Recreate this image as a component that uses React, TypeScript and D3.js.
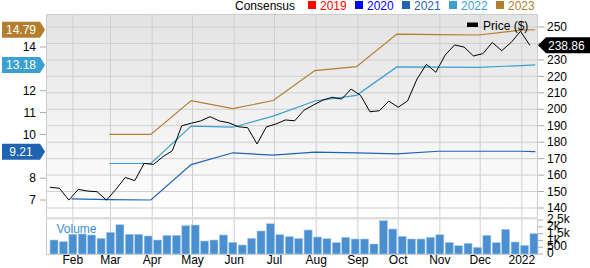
import React from "react";
import * as d3 from "d3";

const W = 590;
const H = 268;

// Weekly closing prices (Fridays, from 2021-01-15)
const priceStart = "2021-01-15";
const priceValues = [
  152.6, 152.0, 144.8, 151.3, 150.3, 149.9, 144.8, 151.3, 158.6, 156.6,
  167.1, 166.5, 171.2, 174.8, 190.0, 191.5, 192.9, 195.5, 192.9, 191.8,
  189.4, 188.8, 178.9, 189.4, 191.0, 193.5, 193.0, 199.5, 202.6, 205.6,
  207.3, 206.2, 212.3, 208.4, 198.5, 199.1, 205.0, 201.2, 205.1, 218.4,
  227.3, 222.5, 233.0, 239.1, 237.8, 232.4, 233.8, 240.6, 235.6, 240.6,
  247.4, 238.86,
];
// Weekly volume (thousands)
const volumeValues = [
  1029, 904, 1449, 1471, 1397, 1154, 1596, 2154, 1449, 1449,
  1324, 1029, 1375, 1375, 2081, 2132, 956, 1029, 1397, 860,
  662, 1154, 1691, 2228, 1419, 1272, 1140, 1765, 1250, 1125,
  831, 1228, 1103, 1103, 735, 2449, 1838, 1301, 1103, 1103,
  1228, 1419, 860, 610, 787, 493, 1375, 831, 1816, 882,
  640, 1493,
];

// Consensus EPS estimates
const eps2021Dates = ["2021-01-31", "2021-02-28", "2021-03-31", "2021-04-30", "2021-05-31", "2021-06-30", "2021-07-31", "2021-08-31", "2021-09-30", "2021-10-31", "2021-11-30", "2021-12-31", "2022-01-11"];
const eps2021 = [7.05, 7.02, 7.0, 8.62, 9.16, 9.05, 9.19, 9.16, 9.11, 9.23, 9.23, 9.23, 9.21];
const epsLateDates = ["2021-02-28", "2021-03-31", "2021-04-30", "2021-05-31", "2021-06-30", "2021-07-31", "2021-08-31", "2021-09-30", "2021-10-31", "2021-11-30", "2021-12-31", "2022-01-11"];
const eps2022 = [8.67, 8.67, 10.38, 10.33, 10.84, 11.53, 11.79, 13.09, 13.08, 13.07, 13.15, 13.18];
const eps2023 = [10.0, 10.0, 11.55, 11.18, 11.55, 12.92, 13.1, 14.59, 14.57, 14.55, 14.77, 14.79];

const priceTicks = [140, 150, 160, 170, 180, 190, 200, 210, 220, 230, 240, 250];
const priceTickLabels = ["140", "150", "160", "170", "180", "190", "200", "210", "220", "230", "", "250"];
const epsTicks = [7, 8, 10, 11, 12, 14];
const volTicks = [0, 500, 1000, 1500, 2000, 2500];
const volTickLabels = ["0", "500", "1k", "1.5k", "2k", "2.5k"];
const monthTicks = ["2021-02-01", "2021-03-01", "2021-04-01", "2021-05-01", "2021-06-01", "2021-07-01", "2021-08-01", "2021-09-01", "2021-10-01", "2021-11-01", "2021-12-01", "2022-01-01"];
const monthLabels = ["Feb", "Mar", "Apr", "May", "Jun", "Jul", "Aug", "Sep", "Oct", "Nov", "Dec", "2022"];

const legendYears = ["2019", "2020", "2021", "2022", "2023"];
const legendColors = ["#ff0000", "#0000ff", "#1f63b3", "#3a9fd1", "#b47d2e"];

const parse = d3.utcParse("%Y-%m-%d");
const FONT = "'Liberation Sans', Arial, Helvetica, sans-serif";

export default function App() {
  const left = 46, right = 538, top = 14, mainBottom = 217, volBottom = 254;

  const x = d3.scaleUtc().domain([parse("2021-01-12")!, parse("2022-01-13")!]).range([left, right]);
  const yP = d3.scaleLinear().domain([140, 250]).range([208, 27]);
  const yE = d3.scaleLinear().domain([7, 14]).range([200, 47]);
  const yV = d3.scaleLinear().domain([0, 2500]).range([volBottom, 220]);

  const start = parse(priceStart)!;
  const priceDates = priceValues.map((_, i) => d3.utcDay.offset(start, 7 * i));

  const priceLine = d3.line<number>().x((_, i) => x(priceDates[i])).y((d) => yP(d));
  const epsLine = (dates: string[]) =>
    d3.line<number>().x((_, i) => x(parse(dates[i])!)).y((d) => yE(d));

  const series = [
    { vals: eps2021, dates: eps2021Dates, color: legendColors[2] },
    { vals: eps2022, dates: epsLateDates, color: legendColors[3] },
    { vals: eps2023, dates: epsLateDates, color: legendColors[4] },
  ];

  const boxes = [
    { v: eps2023[eps2023.length - 1], color: legendColors[4] },
    { v: eps2022[eps2022.length - 1], color: legendColors[3] },
    { v: eps2021[eps2021.length - 1], color: legendColors[2] },
  ];
  const lastPrice = priceValues[priceValues.length - 1];

  return (
    <svg width={W} height={H} style={{ position: "absolute", left: 0, top: 0 }} fontFamily={FONT} fontSize={12}>
      <defs>
        <linearGradient id="bg" x1="0" y1="0" x2="0" y2="1">
          <stop offset="0" stopColor="#e3e3e3" />
          <stop offset="1" stopColor="#ffffff" />
        </linearGradient>
      </defs>
      <rect x={0} y={0} width={W} height={H} fill="#fff" />
      <rect x={left} y={top} width={right - left} height={mainBottom - top} fill="url(#bg)" />

      {/* horizontal grid */}
      {priceTicks.map((t) => (
        <line key={"hg" + t} x1={left} x2={right} y1={yP(t)} y2={yP(t)} stroke="#cfcfcf" />
      ))}
      {/* vertical grid */}
      {monthTicks.map((m) => (
        <line key={"vg" + m} x1={x(parse(m)!)} x2={x(parse(m)!)} y1={top} y2={volBottom} stroke="#cfcfcf" />
      ))}
      {/* frame */}
      <line x1={left} x2={right} y1={top + 0.5} y2={top + 0.5} stroke="#cccccc" />
      <line x1={left + 0.5} x2={left + 0.5} y1={top} y2={volBottom} stroke="#cccccc" />
      <line x1={right - 0.5} x2={right - 0.5} y1={top} y2={volBottom} stroke="#cccccc" />
      <rect x={left} y={mainBottom} width={right - left} height={2.5} fill="#dddddd" />
      <line x1={left} x2={right} y1={volBottom + 0.5} y2={volBottom + 0.5} stroke="#cccccc" />

      {/* volume */}
      <text x={56.5} y={232.5} fill="#3b8fd3" fontSize={12}>Volume</text>
      {volumeValues.map((v, i) => (
        <rect
          key={"vb" + i}
          x={x(priceDates[i])}
          y={yV(v)}
          width={8}
          height={volBottom - yV(v)}
          fill="#4a8fd0"
          stroke="#a8cbeb"
          strokeWidth={0.6}
        />
      ))}

      {/* EPS lines */}
      {series.map((s, k) => (
        <path key={"eps" + k} d={epsLine(s.dates)(s.vals) || ""} fill="none" stroke={s.color} strokeWidth={1.2} />
      ))}
      {/* price */}
      <path d={priceLine(priceValues) || ""} fill="none" stroke="#000" strokeWidth={1} />

      {/* left axis */}
      {epsTicks.map((t) => (
        <g key={"et" + t}>
          <text x={36} y={yE(t)} dy="0.35em" textAnchor="end" fill="#000">{t}</text>
          <line x1={40} x2={46} y1={yE(t)} y2={yE(t)} stroke="#aaa" />
        </g>
      ))}
      {boxes.map((b, k) => {
        const cy = yE(b.v);
        return (
          <g key={"box" + k}>
            <path d={`M2,${cy - 8}H40L45,${cy}L40,${cy + 8}H2Z`} fill={b.color} />
            <text x={21} y={cy} dy="0.35em" textAnchor="middle" fill="#fff">{b.v.toFixed(2)}</text>
          </g>
        );
      })}

      {/* right axis */}
      {priceTicks.map((t, i) => (
        <g key={"pt" + t}>
          <line x1={538} x2={544} y1={yP(t)} y2={yP(t)} stroke="#aaa" />
          {priceTickLabels[i] ? (
            <text x={547} y={yP(t)} dy="0.35em" fill="#000">{priceTickLabels[i]}</text>
          ) : null}
        </g>
      ))}
      {volTicks.map((t, i) => (
        <g key={"vt" + t}>
          <line x1={538} x2={543} y1={yV(t)} y2={yV(t)} stroke="#aaa" />
          <text x={547} y={yV(t) - 1} dy="0.35em" fill="#000">{volTickLabels[i]}</text>
        </g>
      ))}
      <g>
        <path d={`M538,${yP(lastPrice)}L546,${yP(lastPrice) - 8}H590V${yP(lastPrice) + 8}H546Z`} fill="#000" />
        <text x={548} y={yP(lastPrice)} dy="0.35em" fill="#fff">{lastPrice.toFixed(2)}</text>
      </g>

      {/* x axis labels */}
      {monthTicks.map((m, i) => (
        <text key={"ml" + m} x={x(parse(m)!)} y={264} textAnchor="middle" fill="#000">{monthLabels[i]}</text>
      ))}

      {/* legend */}
      <text x={235} y={9.5} fill="#000">Consensus</text>
      {legendYears.map((yr, i) => (
        <g key={"lg" + yr}>
          <rect x={308 + i * 47} y={1} width={8} height={8} fill={legendColors[i]} />
          <text x={320 + i * 47} y={9.5} fill={legendColors[i]}>{yr}</text>
        </g>
      ))}
      <rect x={467} y={22.5} width={11} height={4.5} fill="#000" />
      <text x={483} y={30} fill="#000">Price ($)</text>
    </svg>
  );
}
